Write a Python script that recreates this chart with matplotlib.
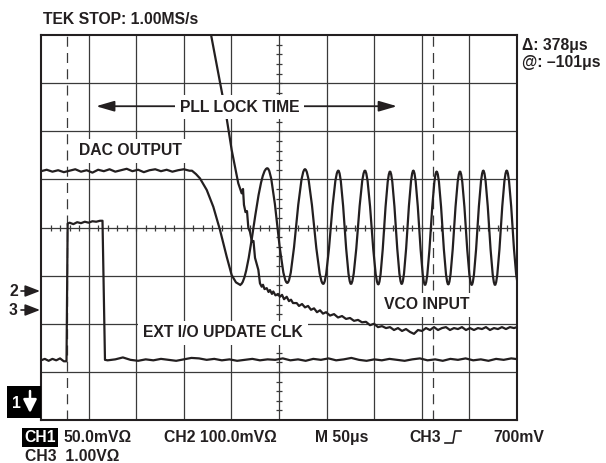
import numpy as np
import matplotlib
matplotlib.use('Agg')
import matplotlib.pyplot as plt
from matplotlib.path import Path
from matplotlib.patches import PathPatch, Rectangle
from matplotlib.lines import Line2D

# scope screen: x in microseconds (50 us/div, 10 div), y in divisions (8 div)
cursor_t = [27.0, 412.0]

# CH1 DAC output: flat part + start of the fall
dac_flat_y = [5.17, 5.20, 5.16, 5.19, 5.15, 5.18, 5.21, 5.16, 5.19, 5.14, 5.20, 5.17, 5.21, 5.16,
              5.19, 5.22, 5.17, 5.20, 5.15, 5.19, 5.21, 5.17, 5.20, 5.16, 5.19, 5.21, 5.18]
dac_fall_t = [158.6, 162.8, 167.0, 174.1, 181.0, 188.0, 195.1, 200.3, 204.8, 209.0]
dac_fall_y = [5.18, 5.11, 5.02, 4.78, 4.43, 3.95, 3.39, 3.01, 2.86, 2.81]
# then the chirp: peaks / troughs
dac_ext_t = [209.0, 237.7, 258.7, 277.3, 296.5, 312.3, 325.6, 340.3, 354.3, 366.6, 378.9,
             391.1, 403.4, 415.6, 427.8, 440.1, 452.4, 464.6, 476.9, 489.2, 501.5]
dac_ext_y = [2.81, 5.23, 2.85, 5.21, 2.83, 5.18, 2.83, 5.18, 2.82, 5.16, 2.83,
             5.18, 2.81, 5.16, 2.82, 5.16, 2.81, 5.18, 2.81, 5.18, 2.82]

# CH2 VCO input
vco_t = [175.7, 188.0, 194.3, 200.3, 203.8, 207.2, 210.8, 212.2, 213.2, 214.8, 216.4, 217.8,
         219.5, 221.6, 223.2, 224.8, 228.3, 230.0, 231.8, 233.2, 234.8, 237.1, 239.0, 240.5,
         242.6, 244.0, 246.3, 249.0, 251.0, 253.2, 255.3, 258.1, 260.5, 262.6, 264.7, 268.6,
         271.0, 274.2, 277.3, 280.5, 283.6, 286.8, 289.9, 293.1, 296.2, 299.4, 303.6, 307.8,
         312.0, 316.2, 320.4, 324.6, 328.8, 333.0, 337.2, 341.4, 345.6, 349.8, 354.0, 358.2,
         362.4, 366.6, 370.8, 375.0, 379.2, 383.4, 387.6, 391.8, 396.0, 400.2, 404.4, 408.6,
         412.8, 417.0, 421.2, 425.4, 429.6, 433.8, 438.0, 442.2, 446.4, 450.6, 454.8, 459.0,
         463.2, 467.4, 471.6, 475.8, 480.0, 484.2, 488.4, 492.6, 496.8, 500.0]
vco_y = [8.31, 7.02, 6.36, 5.61, 5.26, 4.92, 4.71, 4.80, 4.47, 4.32, 4.34, 3.99,
         3.91, 3.70, 3.72, 3.37, 3.12, 2.84, 2.77, 2.81, 2.72, 2.74, 2.66, 2.70,
         2.62, 2.67, 2.59, 2.62, 2.56, 2.60, 2.51, 2.56, 2.47, 2.50, 2.43, 2.43,
         2.37, 2.41, 2.34, 2.37, 2.29, 2.32, 2.24, 2.28, 2.21, 2.24, 2.17, 2.20,
         2.13, 2.16, 2.10, 2.12, 2.06, 2.08, 2.03, 2.04, 1.97, 2.00, 1.93, 1.95,
         1.91, 1.93, 1.87, 1.91, 1.85, 1.89, 1.83, 1.79, 1.87, 1.85, 1.91, 1.87,
         1.93, 1.87, 1.91, 1.93, 1.87, 1.91, 1.89, 1.93, 1.87, 1.91, 1.87, 1.91,
         1.89, 1.93, 1.87, 1.91, 1.89, 1.93, 1.89, 1.93, 1.91, 1.93]

# CH3 EXT I/O UPDATE CLK
clk_t = [0, 4, 8, 12, 16, 20, 24, 26.8, 28.0, 30, 34, 38, 42, 46, 50, 54, 58, 62, 64.6, 67.2]
clk_y = [1.24, 1.27, 1.23, 1.27, 1.24, 1.28, 1.22, 1.22, 4.08, 4.10, 4.07, 4.11, 4.09, 4.12,
         4.10, 4.13, 4.12, 4.14, 4.14, 1.25]
clk_low_y = [1.24, 1.26, 1.30, 1.25, 1.23, 1.26, 1.24, 1.27, 1.25, 1.23, 1.26, 1.29, 1.28, 1.25,
             1.27, 1.24, 1.26, 1.23, 1.25, 1.27, 1.24, 1.26, 1.25, 1.28, 1.24, 1.26, 1.23, 1.27,
             1.25, 1.28, 1.24, 1.26, 1.29, 1.25, 1.23, 1.26, 1.24, 1.27, 1.25, 1.23, 1.26, 1.28,
             1.24, 1.26, 1.23, 1.27, 1.25, 1.28, 1.24, 1.26, 1.23, 1.27, 1.25, 1.28, 1.26]

ink = '#231f20'
gridc = '#3a3a3a'
plt.rcParams['font.family'] = ['Liberation Sans', 'DejaVu Sans']
FS = 11.3

W, H = 606, 463
fig = plt.figure(figsize=(W / 100, H / 100), dpi=100)
ax = fig.add_axes([41 / W, 1 - 420 / H, 476 / W, 385 / H])
ax.set_xlim(0, 500)
ax.set_ylim(0, 8)
ax.set_xticks([])
ax.set_yticks([])
for s in ax.spines.values():
    s.set_linewidth(1.5)
    s.set_color(ink)

# graticule
for t in range(50, 500, 50):
    ax.axvline(t, color=gridc, lw=0.9, zorder=1)
for y in range(1, 8):
    ax.axhline(y, color=gridc, lw=0.9, zorder=1)
ax.plot(np.arange(10, 500, 10), np.full(49, 4.0), ls='none', marker='|', ms=5, mew=0.9,
        color=gridc, zorder=1)
ax.plot(np.full(39, 250.0), np.arange(1, 40) * 0.2, ls='none', marker='_', ms=5, mew=0.9,
        color=gridc, zorder=1)
for c in cursor_t:
    ax.axvline(c, color=gridc, lw=0.9, ls=(0, (8, 5)), zorder=1.5)

tr = dict(color=ink, lw=1.6, zorder=3, solid_joinstyle='round')

# DAC output
dac_flat_t = np.linspace(0, 156, len(dac_flat_y))
ax.plot(list(dac_flat_t) + dac_fall_t, dac_flat_y + dac_fall_y, **tr)
verts = [(dac_ext_t[0], dac_ext_y[0])]
codes = [Path.MOVETO]
for i in range(1, len(dac_ext_t)):
    t0, y0, t1, y1 = dac_ext_t[i - 1], dac_ext_y[i - 1], dac_ext_t[i], dac_ext_y[i]
    d = 0.3634 * (t1 - t0)
    verts += [(t0 + d, y0), (t1 - d, y1), (t1, y1)]
    codes += [Path.CURVE4] * 3
ax.add_patch(PathPatch(Path(verts, codes), fill=False, ec=ink, lw=1.6, zorder=3))

# VCO input
ax.plot(vco_t, vco_y, **tr)

# EXT I/O update clock
clk_low_t = 70 + 8 * np.arange(len(clk_low_y))
ax.plot(clk_t + list(clk_low_t), clk_y + clk_low_y, **tr)

# labels on screen
lab = dict(fontsize=FS, fontweight='bold', color=ink, zorder=5,
           bbox=dict(boxstyle='square,pad=0.3', fc='white', ec='none'))
arw = dict(arrowstyle='-|>,head_length=1.1,head_width=0.32', lw=1.3, color=ink,
           shrinkA=0, shrinkB=0)
ax.annotate('', xy=(57.8, 6.52), xytext=(208.5, 6.52), arrowprops=arw, zorder=4)
ax.annotate('', xy=(374.0, 6.52), xytext=(208.5, 6.52), arrowprops=arw, zorder=4)
ax.text(208.5, 6.41, 'PLL LOCK TIME', ha='center', va='baseline', **lab)
ax.text(39.9, 5.50, 'DAC OUTPUT', ha='left', va='baseline', **lab)
ax.text(360.3, 2.30, 'VCO INPUT', ha='left', va='baseline', **lab)
ax.text(107.1, 1.72, 'EXT I/O UPDATE CLK', ha='left', va='baseline', **lab)


def ftxt(x, y, s, **kw):
    kw.setdefault('fontsize', FS)
    kw.setdefault('color', ink)
    fig.text(x / W, 1 - y / H, s, fontweight='bold', va='baseline', **kw)


ftxt(43, 24.5, 'TEK STOP: 1.00MS/s')
ftxt(522, 50, 'Δ: 378μs')
ftxt(522, 66.5, '@: –101μs')

# channel reference markers
ftxt(9, 296, '2')
ftxt(9, 315, '3')
mk = dict(arrowstyle='-|>,head_length=0.9,head_width=0.35', lw=1.2, color=ink,
          shrinkA=0, shrinkB=0)
for yy in (291, 310):
    fig.add_artist(plt.Annotation('', xy=(40, H - yy), xytext=(21, H - yy),
                                  xycoords='figure pixels', arrowprops=mk))
fig.add_artist(Rectangle((7 / W, 1 - 418 / H), 34 / W, 32 / H, transform=fig.transFigure,
                         fc='black', ec='none'))
ftxt(12, 408, '1', color='white')
fig.add_artist(plt.Annotation('', xy=(30, H - 413), xytext=(30, H - 391),
                              xycoords='figure pixels',
                              arrowprops=dict(arrowstyle='-|>,head_length=0.8,head_width=0.4',
                                              lw=1.8, color='white', shrinkA=0, shrinkB=0)))

# readout line
ftxt(24, 442, 'CH1', color='white',
     bbox=dict(boxstyle='square,pad=0.12', fc='black', ec='none'))
ftxt(63, 442, '50.0mVΩ')
ftxt(164, 442, 'CH2 100.0mVΩ')
ftxt(315, 442, 'M 50μs')
ftxt(409, 442, 'CH3')
fig.add_artist(Line2D(np.array([445, 453, 455, 461]) / W, 1 - np.array([443, 443, 431, 431]) / H,
                      transform=fig.transFigure, color=ink, lw=1.2))
ftxt(493, 442, '700mV')
ftxt(25, 461, 'CH3  1.00VΩ')

fig.savefig('out.png', dpi=100)
